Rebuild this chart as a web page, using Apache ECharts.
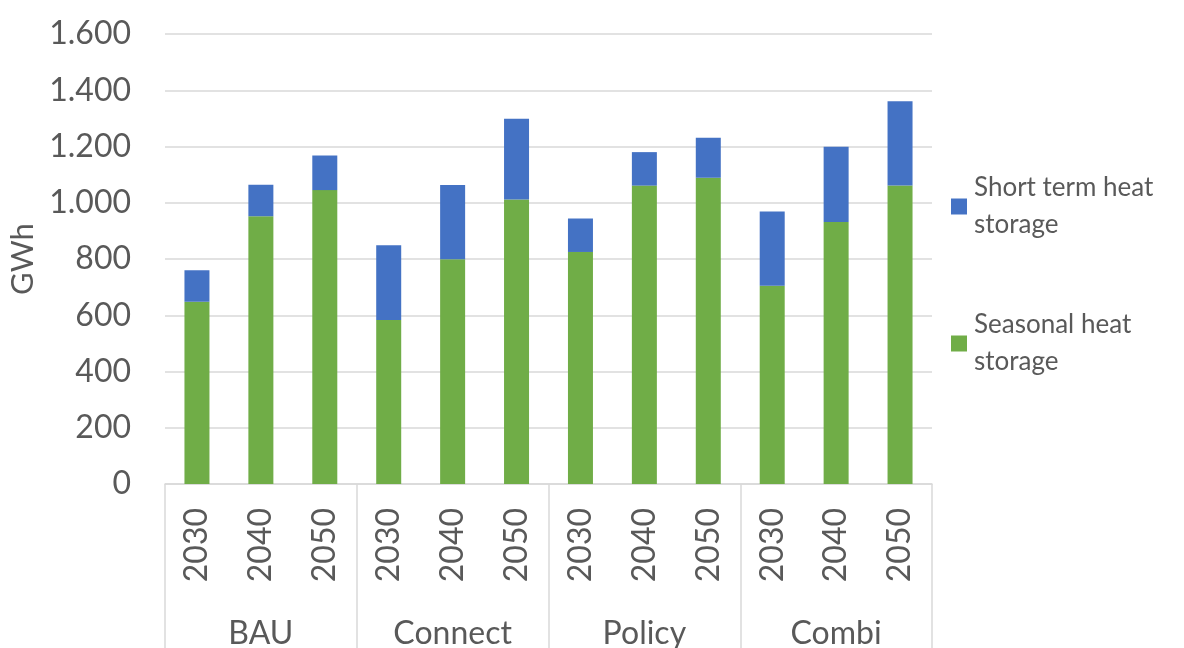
<!DOCTYPE html>
<html>
<head>
<meta charset="utf-8">
<script src="https://cdn.jsdelivr.net/npm/echarts@6/dist/echarts.min.js"></script>
<style>html,body{margin:0;padding:0;background:#fff;}#c{width:1184px;height:648px;}</style>
</head>
<body>
<div id="c"></div>
<script>
const years = ['2030','2040','2050','2030','2040','2050','2030','2040','2050','2030','2040','2050'];
const groups = ['BAU','Connect','Policy','Combi'];
const seasonal = [648, 952, 1045, 583, 799, 1012, 825, 1061, 1089, 705, 932, 1061];
const shortTerm = [112, 112, 123, 266, 264, 287, 119, 119, 142, 264, 267, 300];
const yTicks = [0, 200, 400, 600, 800, 1000, 1200, 1400, 1600];

const FONT = 'Lato';
const TXT = '#595959';
const chart = echarts.init(document.getElementById('c'));
chart.setOption({
  animation: false,
  textStyle: { fontFamily: FONT },
  grid: { left: 165, right: 252, top: 34, bottom: 164, outerBoundsMode: 'none', containLabel: false },
  legend: {
    orient: 'vertical',
    left: 946, top: 146,
    itemWidth: 16, itemHeight: 16, itemGap: 26,
    icon: 'rect',
    data: ['Short term heat storage', 'Seasonal heat storage'],
    formatter: n => n === 'Short term heat storage' ? 'Short term heat\nstorage' : 'Seasonal heat\nstorage',
    textStyle: { fontFamily: FONT, fontSize: 26, color: TXT, lineHeight: 37, padding: [37, 0, 0, 2] }
  },
  xAxis: [
    {
      type: 'category', data: years, gridIndex: 0, position: 'bottom',
      axisLine: { show: true, lineStyle: { color: '#D9D9D9', width: 1.5 } },
      axisTick: { show: false },
      axisLabel: { rotate: 90, fontSize: 32, color: TXT, margin: 24, fontFamily: FONT, interval: 0 }
    },
    {
      type: 'category', data: groups, gridIndex: 0, position: 'bottom',
      axisLine: { show: false },
      axisTick: { show: true, length: 170, lineStyle: { color: '#D9D9D9', width: 1.5 } },
      axisLabel: { fontSize: 32, color: TXT, margin: 134, fontFamily: FONT, interval: 0 },
      splitLine: { show: false }
    }
  ],
  yAxis: {
    type: 'value', min: 0, max: 1600, interval: 200,
    name: 'GWh', nameLocation: 'middle', nameGap: 124, nameRotate: 90,
    nameTextStyle: { fontSize: 31, color: TXT, fontFamily: FONT },
    axisLine: { show: false }, axisTick: { show: false },
    axisLabel: {
      fontSize: 32, color: TXT, margin: 34, fontFamily: FONT,
      formatter: v => String(v).replace(/\B(?=(\d{3})+(?!\d))/g, '.')
    },
    splitLine: { lineStyle: { color: '#D9D9D9', width: 1.5 } }
  },
  series: [
    { name: 'Seasonal heat storage', type: 'bar', stack: 's', data: seasonal, barWidth: 25,
      itemStyle: { color: '#70AD47' } },
    { name: 'Short term heat storage', type: 'bar', stack: 's', data: shortTerm, barWidth: 25,
      itemStyle: { color: '#4472C4' } }
  ]
});
</script>
</body>
</html>
